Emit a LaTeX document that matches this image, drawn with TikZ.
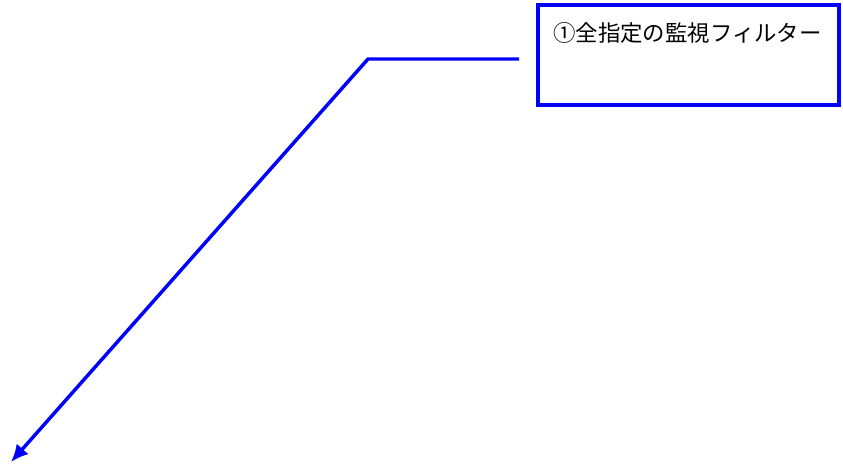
\documentclass[tikz,border=0pt]{standalone}
\usepackage{fontspec}
\newfontfamily\cjk{Noto Sans CJK JP}
\usetikzlibrary{arrows.meta}

\tikzset{
  filterbox/.style={draw=blue, line width=3pt, minimum width=301*0.75pt, minimum height=100*0.75pt, inner sep=0pt},
  leader/.style={draw=blue, line width=2.6pt, -{Latex[length=13pt,width=12pt]}}
}

\begin{document}
\begin{tikzpicture}[x=0.75pt,y=0.75pt,yscale=-1,xscale=1]
\useasboundingbox (0,0) rectangle (843,472);

%Shape: Rectangle [id:filter]
\node[filterbox] (filter) at (688.5,54.5) {};
% Text Node
\node[anchor=west, inner sep=0pt, font=\cjk\fontsize{16.8}{19}\selectfont] (title) at (553,33) {①全指定の監視フィルター};

%Straight Lines [id:leader]
\coordinate (start) at (519,59);
\coordinate (bend) at (368,59);
\coordinate (tip) at (11,462);
\draw[leader] (start) -- (bend) -- (tip);

\end{tikzpicture}
\end{document}
